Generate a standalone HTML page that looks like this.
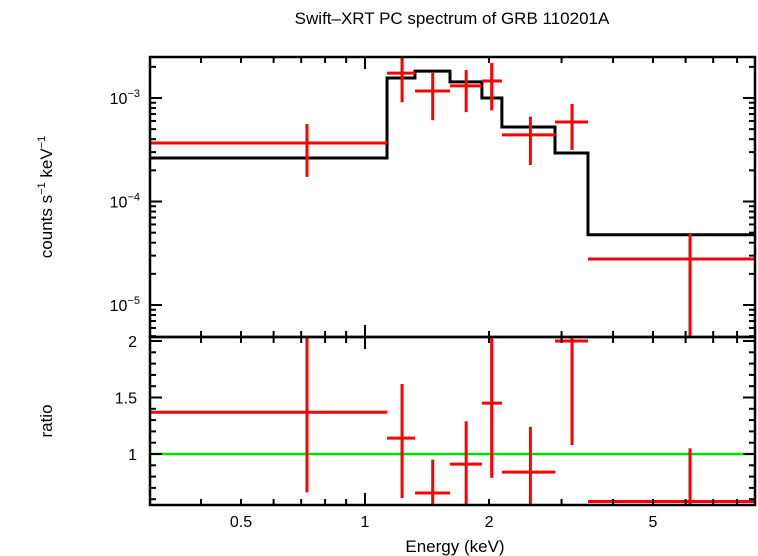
<!DOCTYPE html>
<html><head><meta charset="utf-8"><style>
html,body{margin:0;padding:0;background:#fff;}
svg{display:block;font-family:"Liberation Sans",sans-serif;}
</style></head><body>
<svg id="chart" width="758" height="556" viewBox="0 0 758 556" xmlns="http://www.w3.org/2000/svg">
<text x="452" y="24" font-size="17" text-anchor="middle">Swift–XRT PC spectrum of GRB 110201A</text>
<text x="455" y="552" font-size="17" text-anchor="middle">Energy (keV)</text>
<text transform="translate(52,197) rotate(-90)" font-size="17" text-anchor="middle">counts s<tspan font-size="11" dy="-7">−1</tspan><tspan dy="7"> keV</tspan><tspan font-size="11" dy="-7">−1</tspan></text>
<text transform="translate(52,421) rotate(-90)" font-size="17" text-anchor="middle">ratio</text>
<g id="plot"></g>
</svg>
<script>
const dataCenters=[0.723,1.23,1.46,1.76,2.03,2.52,3.18,6.15];
const dataLo=[0.3,1.131,1.322,1.608,1.922,2.149,2.892,3.477];
const dataHi=[1.131,1.322,1.608,1.922,2.149,2.892,3.477,8.86];
const rate=[3.67e-4,1.74e-3,1.17e-3,1.31e-3,1.46e-3,4.4e-4,5.86e-4,2.78e-5];
const rateErrHi=[5.6e-4,2.55e-3,1.78e-3,1.86e-3,2.18e-3,6.6e-4,8.75e-4,4.96e-5];
const rateErrLo=[1.73e-4,9.1e-4,6.1e-4,7.3e-4,7.6e-4,2.25e-4,3.15e-4,1e-7];
const modelEdges=[0.3,1.131,1.322,1.608,1.922,2.149,2.892,3.477,8.86];
const modelVals=[2.63e-4,1.56e-3,1.82e-3,1.43e-3,1.0e-3,5.24e-4,2.94e-4,4.77e-5];
const ratio=[1.37,1.14,0.655,0.91,1.45,0.84,2.0,0.58];
const ratioErrHi=[2.5,1.62,0.95,1.29,2.1,1.24,2.5,1.05];
const ratioErrLo=[0.66,0.61,0.4,0.4,0.79,0.4,1.08,0.4];
const xTickLabels=["0.5","1","2","5"];
const xTickVals=[0.5,1,2,5];
const yUpperLabels=["−3","−4","−5"];
const yUpperVals=[1e-3,1e-4,1e-5];
const yLowerLabels=["2","1.5","1"];
const yLowerVals=[2,1.5,1];

const L=150,R=755,T=57,M=337,B=505;
const X=e=>365+412*Math.log10(e);
const YU=v=>Math.min(Math.max(98-103.5*(Math.log10(v)+3),T),M);
const YL=r=>Math.min(Math.max(454-113*(r-1),M),B);
const NS="http://www.w3.org/2000/svg";
const g=document.getElementById('plot');
function el(tag,attrs,name){const e=document.createElementNS(NS,tag);for(const k in attrs)e.setAttribute(k,attrs[k]);


g.appendChild(e);return e;}
function line(x1,y1,x2,y2,c,w,name){return el('line',{x1,y1,x2,y2,stroke:c,'stroke-width':w},name);}

// model step
let d='';
modelVals.forEach((v,i)=>{const x1=X(modelEdges[i]),x2=X(modelEdges[i+1]),y=YU(v);d+=(i?'L':'M')+x1+' '+y+' L'+x2+' '+y+' ';});
el('path',{d,fill:'none',stroke:'#000','stroke-width':3},'model-step-line');
// green unity line
line(L,YL(1),R,YL(1),'#00e000',2.5,'ratio-unity-line');
// data
dataCenters.forEach((c,i)=>{
 const xc=X(c);
 line(X(dataLo[i]),YU(rate[i]),X(dataHi[i]),YU(rate[i]),'#f00',3,'data-xerr-'+i);
 line(xc,YU(rateErrHi[i]),xc,YU(rateErrLo[i]),'#f00',3,'data-yerr-'+i);
 line(X(dataLo[i]),YL(ratio[i]),X(dataHi[i]),YL(ratio[i]),'#f00',3,'ratio-xerr-'+i);
 line(xc,YL(ratioErrHi[i]),xc,YL(ratioErrLo[i]),'#f00',3,'ratio-yerr-'+i);
});
// frames
el('rect',{x:L,y:T,width:R-L,height:M-T,fill:'none',stroke:'#000','stroke-width':2.5},'upper-panel-frame');
el('rect',{x:L,y:M,width:R-L,height:B-M,fill:'none',stroke:'#000','stroke-width':2.5},'lower-panel-frame');
// x ticks
const minorX=[0.4,0.5,0.6,0.7,0.8,0.9,2,3,4,5,6,7,8];
[[T,M],[M,B]].forEach(([t,b])=>{
 minorX.forEach(e=>{const x=X(e);line(x,t,x,t+6,'#000',2,'x-minor-tick');line(x,b,x,b-6,'#000',2,'x-minor-tick');});
 const x=X(1);line(x,t,x,t+12,'#000',2,'x-major-tick');line(x,b,x,b-12,'#000',2,'x-major-tick');
});
xTickVals.forEach((v,i)=>{const t=el('text',{x:X(v),y:527,'font-size':16,'text-anchor':'middle'},'x-tick-label');t.textContent=xTickLabels[i];});
// upper y ticks
for(let dec=-6;dec<=-3;dec++){for(let m=1;m<=9;m++){const v=m*Math.pow(10,dec);const y=98-103.5*(Math.log10(v)+3);if(y<T||y>M)continue;const len=m===1?12:6;line(L,y,L+len,y,'#000',2,'y-upper-tick');line(R,y,R-len,y,'#000',2,'y-upper-tick');}}
yUpperVals.forEach((v,i)=>{const y=YU(v);const t=el('text',{x:140,y:y+6,'font-size':16,'text-anchor':'end'},'y-upper-tick-label');t.innerHTML='10<tspan font-size="11" dy="-7">'+yUpperLabels[i]+'</tspan>';});
// lower y ticks
for(let k=6;k<=20;k++){const r=k/10;const y=454-113*(r-1);const major=(k%5===0);const len=major?12:6;line(L,y,L+len,y,'#000',2,'y-lower-tick');line(R,y,R-len,y,'#000',2,'y-lower-tick');}
yLowerVals.forEach((v,i)=>{const t=el('text',{x:137,y:YL(v)+6,'font-size':16,'text-anchor':'end'},'y-lower-tick-label');t.textContent=yLowerLabels[i];});
</script>
</body></html>
